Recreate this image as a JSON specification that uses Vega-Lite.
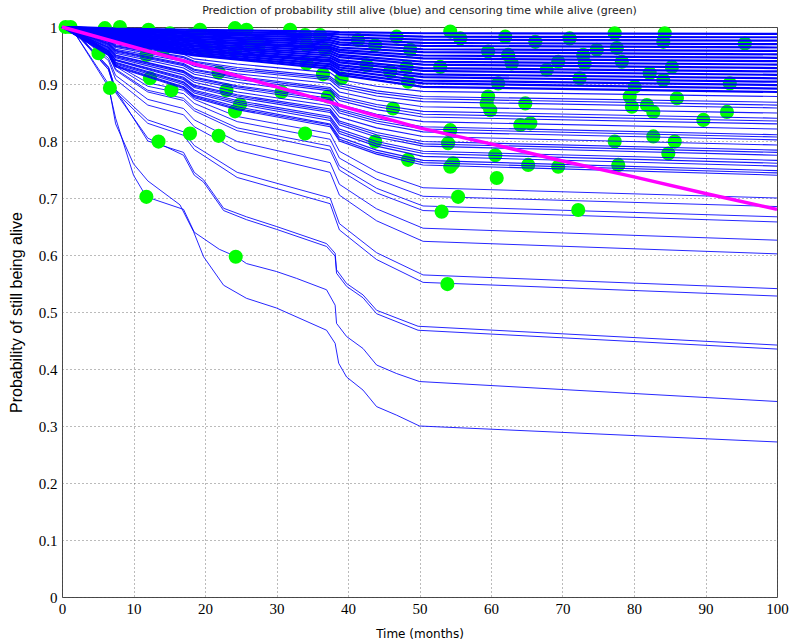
{
"$schema": "https://vega.github.io/schema/vega-lite/v6.json",
"width": 715, "height": 570,
"autosize": "none",
"padding": {"left": 62, "top": 27, "right": 14, "bottom": 47},
"title": {"text": "Prediction of probability still alive (blue) and censoring time while alive (green)", "font": "DejaVu Sans", "fontSize": 11, "fontWeight": "normal", "color": "#222", "offset": 4},
"config": {
 "view": {"stroke": "#444", "strokeWidth": 1},
 "axis": {"grid": true, "gridDash": [1, 3], "gridColor": "#555", "gridOpacity": 0.8, "domain": false, "ticks": false, "labelFont": "Liberation Sans Narrow", "labelFontSize": 15, "labelColor": "#000", "titleFontWeight": "normal", "titleColor": "#000"}
},
"datasets": {
"top": [
{"s":1,"t":0,"p":1},{"s":1,"t":2,"p":1.0},{"s":1,"t":7.5,"p":0.997},{"s":1,"t":18.5,"p":0.995},{"s":1,"t":37.5,"p":0.992},{"s":1,"t":38.8,"p":0.991},{"s":1,"t":50.5,"p":0.989},{"s":1,"t":100,"p":0.988},
{"s":2,"t":0,"p":1},{"s":2,"t":2,"p":0.999},{"s":2,"t":7.5,"p":0.996},{"s":2,"t":18.5,"p":0.992},{"s":2,"t":37.5,"p":0.988},{"s":2,"t":38.8,"p":0.987},{"s":2,"t":50.5,"p":0.983},{"s":2,"t":100,"p":0.982},
{"s":3,"t":0,"p":1},{"s":3,"t":2,"p":0.999},{"s":3,"t":7.5,"p":0.994},{"s":3,"t":18.5,"p":0.989},{"s":3,"t":37.5,"p":0.985},{"s":3,"t":38.8,"p":0.982},{"s":3,"t":50.5,"p":0.978},{"s":3,"t":100,"p":0.976},
{"s":4,"t":0,"p":1},{"s":4,"t":2,"p":0.999},{"s":4,"t":7.5,"p":0.993},{"s":4,"t":18.5,"p":0.987},{"s":4,"t":37.5,"p":0.981},{"s":4,"t":38.8,"p":0.978},{"s":4,"t":50.5,"p":0.972},{"s":4,"t":100,"p":0.970},
{"s":5,"t":0,"p":1},{"s":5,"t":2,"p":0.999},{"s":5,"t":7.5,"p":0.991},{"s":5,"t":18.5,"p":0.984},{"s":5,"t":37.5,"p":0.977},{"s":5,"t":38.8,"p":0.973},{"s":5,"t":50.5,"p":0.967},{"s":5,"t":100,"p":0.964},
{"s":6,"t":0,"p":1},{"s":6,"t":2,"p":0.999},{"s":6,"t":7.5,"p":0.990},{"s":6,"t":18.5,"p":0.982},{"s":6,"t":37.5,"p":0.973},{"s":6,"t":38.8,"p":0.969},{"s":6,"t":50.5,"p":0.961},{"s":6,"t":100,"p":0.958},
{"s":7,"t":0,"p":1},{"s":7,"t":2,"p":0.999},{"s":7,"t":7.5,"p":0.988},{"s":7,"t":18.5,"p":0.979},{"s":7,"t":37.5,"p":0.969},{"s":7,"t":38.8,"p":0.964},{"s":7,"t":50.5,"p":0.956},{"s":7,"t":100,"p":0.952},
{"s":8,"t":0,"p":1},{"s":8,"t":2,"p":0.998},{"s":8,"t":7.5,"p":0.987},{"s":8,"t":18.5,"p":0.976},{"s":8,"t":37.5,"p":0.965},{"s":8,"t":38.8,"p":0.960},{"s":8,"t":50.5,"p":0.950},{"s":8,"t":100,"p":0.946},
{"s":9,"t":0,"p":1},{"s":9,"t":2,"p":0.998},{"s":9,"t":7.5,"p":0.986},{"s":9,"t":18.5,"p":0.974},{"s":9,"t":37.5,"p":0.962},{"s":9,"t":38.8,"p":0.956},{"s":9,"t":50.5,"p":0.945},{"s":9,"t":100,"p":0.940},
{"s":10,"t":0,"p":1},{"s":10,"t":2,"p":0.998},{"s":10,"t":7.5,"p":0.984},{"s":10,"t":18.5,"p":0.971},{"s":10,"t":37.5,"p":0.958},{"s":10,"t":38.8,"p":0.951},{"s":10,"t":50.5,"p":0.939},{"s":10,"t":100,"p":0.934},
{"s":11,"t":0,"p":1},{"s":11,"t":2,"p":0.998},{"s":11,"t":7.5,"p":0.983},{"s":11,"t":18.5,"p":0.968},{"s":11,"t":37.5,"p":0.954},{"s":11,"t":38.8,"p":0.947},{"s":11,"t":50.5,"p":0.934},{"s":11,"t":100,"p":0.928},
{"s":12,"t":0,"p":1},{"s":12,"t":2,"p":0.998},{"s":12,"t":7.5,"p":0.981},{"s":12,"t":18.5,"p":0.966},{"s":12,"t":37.5,"p":0.950},{"s":12,"t":38.8,"p":0.942},{"s":12,"t":50.5,"p":0.928},{"s":12,"t":100,"p":0.922},
{"s":13,"t":0,"p":1},{"s":13,"t":2,"p":0.997},{"s":13,"t":7.5,"p":0.980},{"s":13,"t":18.5,"p":0.963},{"s":13,"t":37.5,"p":0.946},{"s":13,"t":38.8,"p":0.938},{"s":13,"t":50.5,"p":0.923},{"s":13,"t":100,"p":0.916},
{"s":14,"t":0,"p":1},{"s":14,"t":2,"p":0.997},{"s":14,"t":7.5,"p":0.978},{"s":14,"t":18.5,"p":0.960},{"s":14,"t":37.5,"p":0.942},{"s":14,"t":38.8,"p":0.933},{"s":14,"t":50.5,"p":0.917},{"s":14,"t":100,"p":0.910},
{"s":15,"t":0,"p":1},{"s":15,"t":2,"p":0.997},{"s":15,"t":7.5,"p":0.977},{"s":15,"t":18.5,"p":0.958},{"s":15,"t":37.5,"p":0.939},{"s":15,"t":38.8,"p":0.929},{"s":15,"t":50.5,"p":0.912},{"s":15,"t":100,"p":0.904},
{"s":16,"t":0,"p":1},{"s":16,"t":2,"p":0.997},{"s":16,"t":7.5,"p":0.976},{"s":16,"t":18.5,"p":0.955},{"s":16,"t":37.5,"p":0.935},{"s":16,"t":38.8,"p":0.925},{"s":16,"t":50.5,"p":0.906},{"s":16,"t":100,"p":0.898},
{"s":17,"t":0,"p":1},{"s":17,"t":2,"p":0.997},{"s":17,"t":7.5,"p":0.974},{"s":17,"t":18.5,"p":0.952},{"s":17,"t":37.5,"p":0.931},{"s":17,"t":38.8,"p":0.920},{"s":17,"t":50.5,"p":0.901},{"s":17,"t":100,"p":0.892},
{"s":18,"t":0,"p":1},{"s":18,"t":2,"p":0.997},{"s":18,"t":7.5,"p":0.973},{"s":18,"t":18.5,"p":0.950},{"s":18,"t":37.5,"p":0.927},{"s":18,"t":38.8,"p":0.916},{"s":18,"t":50.5,"p":0.895},{"s":18,"t":100,"p":0.886}
],
"mid": [
{"s":1,"t":0,"p":1},{"s":1,"t":6.5,"p":0.978},{"s":1,"t":7.5,"p":0.969},{"s":1,"t":17,"p":0.952},{"s":1,"t":18.5,"p":0.944},{"s":1,"t":24.5,"p":0.935},{"s":1,"t":37.5,"p":0.920},{"s":1,"t":38.8,"p":0.908},{"s":1,"t":44,"p":0.896},{"s":1,"t":50.5,"p":0.887},{"s":1,"t":100,"p":0.878},
{"s":2,"t":0,"p":1},{"s":2,"t":6.5,"p":0.976},{"s":2,"t":7.5,"p":0.967},{"s":2,"t":17,"p":0.948},{"s":2,"t":18.5,"p":0.940},{"s":2,"t":24.5,"p":0.929},{"s":2,"t":37.5,"p":0.913},{"s":2,"t":38.8,"p":0.901},{"s":2,"t":44,"p":0.888},{"s":2,"t":50.5,"p":0.878},{"s":2,"t":100,"p":0.868},
{"s":18,"t":0,"p":1},{"s":18,"t":6.5,"p":0.975},{"s":18,"t":7.5,"p":0.966},{"s":18,"t":17,"p":0.946},{"s":18,"t":18.5,"p":0.938},{"s":18,"t":24.5,"p":0.926},{"s":18,"t":37.5,"p":0.910},{"s":18,"t":38.8,"p":0.897},{"s":18,"t":44,"p":0.884},{"s":18,"t":50.5,"p":0.874},{"s":18,"t":100,"p":0.863},
{"s":3,"t":0,"p":1},{"s":3,"t":6.5,"p":0.974},{"s":3,"t":7.5,"p":0.964},{"s":3,"t":17,"p":0.943},{"s":3,"t":18.5,"p":0.935},{"s":3,"t":24.5,"p":0.923},{"s":3,"t":37.5,"p":0.907},{"s":3,"t":38.8,"p":0.893},{"s":3,"t":44,"p":0.879},{"s":3,"t":50.5,"p":0.869},{"s":3,"t":100,"p":0.858},
{"s":4,"t":0,"p":1},{"s":4,"t":6.5,"p":0.973},{"s":4,"t":7.5,"p":0.961},{"s":4,"t":17,"p":0.940},{"s":4,"t":18.5,"p":0.931},{"s":4,"t":24.5,"p":0.918},{"s":4,"t":37.5,"p":0.901},{"s":4,"t":38.8,"p":0.886},{"s":4,"t":44,"p":0.872},{"s":4,"t":50.5,"p":0.860},{"s":4,"t":100,"p":0.849},
{"s":5,"t":0,"p":1},{"s":5,"t":6.5,"p":0.971},{"s":5,"t":7.5,"p":0.959},{"s":5,"t":17,"p":0.936},{"s":5,"t":18.5,"p":0.926},{"s":5,"t":24.5,"p":0.913},{"s":5,"t":37.5,"p":0.894},{"s":5,"t":38.8,"p":0.879},{"s":5,"t":44,"p":0.864},{"s":5,"t":50.5,"p":0.852},{"s":5,"t":100,"p":0.840},
{"s":19,"t":0,"p":1},{"s":19,"t":6.5,"p":0.970},{"s":19,"t":7.5,"p":0.958},{"s":19,"t":17,"p":0.934},{"s":19,"t":18.5,"p":0.924},{"s":19,"t":24.5,"p":0.911},{"s":19,"t":37.5,"p":0.891},{"s":19,"t":38.8,"p":0.875},{"s":19,"t":44,"p":0.860},{"s":19,"t":50.5,"p":0.847},{"s":19,"t":100,"p":0.835},
{"s":6,"t":0,"p":1},{"s":6,"t":6.5,"p":0.969},{"s":6,"t":7.5,"p":0.956},{"s":6,"t":17,"p":0.932},{"s":6,"t":18.5,"p":0.921},{"s":6,"t":24.5,"p":0.908},{"s":6,"t":37.5,"p":0.888},{"s":6,"t":38.8,"p":0.871},{"s":6,"t":44,"p":0.855},{"s":6,"t":50.5,"p":0.842},{"s":6,"t":100,"p":0.830},
{"s":7,"t":0,"p":1},{"s":7,"t":6.5,"p":0.967},{"s":7,"t":7.5,"p":0.954},{"s":7,"t":17,"p":0.928},{"s":7,"t":18.5,"p":0.917},{"s":7,"t":24.5,"p":0.903},{"s":7,"t":37.5,"p":0.881},{"s":7,"t":38.8,"p":0.864},{"s":7,"t":44,"p":0.847},{"s":7,"t":50.5,"p":0.834},{"s":7,"t":100,"p":0.821},
{"s":8,"t":0,"p":1},{"s":8,"t":6.5,"p":0.965},{"s":8,"t":7.5,"p":0.951},{"s":8,"t":17,"p":0.923},{"s":8,"t":18.5,"p":0.912},{"s":8,"t":24.5,"p":0.897},{"s":8,"t":37.5,"p":0.875},{"s":8,"t":38.8,"p":0.856},{"s":8,"t":44,"p":0.839},{"s":8,"t":50.5,"p":0.825},{"s":8,"t":100,"p":0.811},
{"s":20,"t":0,"p":1},{"s":20,"t":6.5,"p":0.964},{"s":20,"t":7.5,"p":0.950},{"s":20,"t":17,"p":0.922},{"s":20,"t":18.5,"p":0.910},{"s":20,"t":24.5,"p":0.895},{"s":20,"t":37.5,"p":0.872},{"s":20,"t":38.8,"p":0.853},{"s":20,"t":44,"p":0.835},{"s":20,"t":50.5,"p":0.821},{"s":20,"t":100,"p":0.807},
{"s":9,"t":0,"p":1},{"s":9,"t":6.5,"p":0.963},{"s":9,"t":7.5,"p":0.948},{"s":9,"t":17,"p":0.920},{"s":9,"t":18.5,"p":0.907},{"s":9,"t":24.5,"p":0.892},{"s":9,"t":37.5,"p":0.868},{"s":9,"t":38.8,"p":0.849},{"s":9,"t":44,"p":0.831},{"s":9,"t":50.5,"p":0.816},{"s":9,"t":100,"p":0.802},
{"s":10,"t":0,"p":1},{"s":10,"t":6.5,"p":0.961},{"s":10,"t":7.5,"p":0.946},{"s":10,"t":17,"p":0.916},{"s":10,"t":18.5,"p":0.903},{"s":10,"t":24.5,"p":0.886},{"s":10,"t":37.5,"p":0.862},{"s":10,"t":38.8,"p":0.842},{"s":10,"t":44,"p":0.823},{"s":10,"t":50.5,"p":0.808},{"s":10,"t":100,"p":0.793},
{"s":11,"t":0,"p":1},{"s":11,"t":6.5,"p":0.959},{"s":11,"t":7.5,"p":0.943},{"s":11,"t":17,"p":0.912},{"s":11,"t":18.5,"p":0.898},{"s":11,"t":24.5,"p":0.881},{"s":11,"t":37.5,"p":0.856},{"s":11,"t":38.8,"p":0.835},{"s":11,"t":44,"p":0.815},{"s":11,"t":50.5,"p":0.799},{"s":11,"t":100,"p":0.784},
{"s":21,"t":0,"p":1},{"s":21,"t":6.5,"p":0.958},{"s":21,"t":7.5,"p":0.942},{"s":21,"t":17,"p":0.910},{"s":21,"t":18.5,"p":0.896},{"s":21,"t":24.5,"p":0.879},{"s":21,"t":37.5,"p":0.853},{"s":21,"t":38.8,"p":0.832},{"s":21,"t":44,"p":0.811},{"s":21,"t":50.5,"p":0.795},{"s":21,"t":100,"p":0.780},
{"s":12,"t":0,"p":1},{"s":12,"t":6.5,"p":0.958},{"s":12,"t":7.5,"p":0.941},{"s":12,"t":17,"p":0.908},{"s":12,"t":18.5,"p":0.894},{"s":12,"t":24.5,"p":0.876},{"s":12,"t":37.5,"p":0.850},{"s":12,"t":38.8,"p":0.828},{"s":12,"t":44,"p":0.807},{"s":12,"t":50.5,"p":0.791},{"s":12,"t":100,"p":0.775},
{"s":13,"t":0,"p":1},{"s":13,"t":6.5,"p":0.956},{"s":13,"t":7.5,"p":0.938},{"s":13,"t":17,"p":0.904},{"s":13,"t":18.5,"p":0.889},{"s":13,"t":24.5,"p":0.871},{"s":13,"t":37.5,"p":0.843},{"s":13,"t":38.8,"p":0.821},{"s":13,"t":44,"p":0.799},{"s":13,"t":50.5,"p":0.782},{"s":13,"t":100,"p":0.766},
{"s":22,"t":0,"p":1},{"s":22,"t":6.5,"p":0.955},{"s":22,"t":7.5,"p":0.937},{"s":22,"t":17,"p":0.902},{"s":22,"t":18.5,"p":0.887},{"s":22,"t":24.5,"p":0.868},{"s":22,"t":37.5,"p":0.840},{"s":22,"t":38.8,"p":0.817},{"s":22,"t":44,"p":0.795},{"s":22,"t":50.5,"p":0.778},{"s":22,"t":100,"p":0.761},
{"s":14,"t":0,"p":1},{"s":14,"t":6.5,"p":0.954},{"s":14,"t":7.5,"p":0.935},{"s":14,"t":17,"p":0.899},{"s":14,"t":18.5,"p":0.884},{"s":14,"t":24.5,"p":0.865},{"s":14,"t":37.5,"p":0.836},{"s":14,"t":38.8,"p":0.813},{"s":14,"t":44,"p":0.791},{"s":14,"t":50.5,"p":0.773},{"s":14,"t":100,"p":0.756},
{"s":15,"t":0,"p":1},{"s":15,"t":6.5,"p":0.952},{"s":15,"t":7.5,"p":0.933},{"s":15,"t":17,"p":0.895},{"s":15,"t":18.5,"p":0.880},{"s":15,"t":24.5,"p":0.860},{"s":15,"t":37.5,"p":0.830},{"s":15,"t":38.8,"p":0.807},{"s":15,"t":44,"p":0.784},{"s":15,"t":50.5,"p":0.766},{"s":15,"t":100,"p":0.748},
{"s":16,"t":0,"p":1},{"s":16,"t":6.5,"p":0.951},{"s":16,"t":7.5,"p":0.931},{"s":16,"t":17,"p":0.894},{"s":16,"t":18.5,"p":0.878},{"s":16,"t":24.5,"p":0.857},{"s":16,"t":37.5,"p":0.828},{"s":16,"t":38.8,"p":0.803},{"s":16,"t":44,"p":0.780},{"s":16,"t":50.5,"p":0.762},{"s":16,"t":100,"p":0.744},
{"s":17,"t":0,"p":1},{"s":17,"t":6.5,"p":0.950},{"s":17,"t":7.5,"p":0.930},{"s":17,"t":17,"p":0.892},{"s":17,"t":18.5,"p":0.876},{"s":17,"t":24.5,"p":0.855},{"s":17,"t":37.5,"p":0.825},{"s":17,"t":38.8,"p":0.800},{"s":17,"t":44,"p":0.777},{"s":17,"t":50.5,"p":0.758},{"s":17,"t":100,"p":0.740}
],
"low": [
{"s":1,"t":0,"p":1},{"s":1,"t":2,"p":0.993},{"s":1,"t":6.5,"p":0.958},{"s":1,"t":7.5,"p":0.934},{"s":1,"t":12,"p":0.902},{"s":1,"t":17,"p":0.889},{"s":1,"t":18.5,"p":0.873},{"s":1,"t":24.5,"p":0.843},{"s":1,"t":37.5,"p":0.813},{"s":1,"t":38.8,"p":0.782},{"s":1,"t":44,"p":0.746},{"s":1,"t":50.5,"p":0.718},{"s":1,"t":100,"p":0.700},
{"s":2,"t":0,"p":1},{"s":2,"t":2,"p":0.992},{"s":2,"t":6.5,"p":0.956},{"s":2,"t":7.5,"p":0.931},{"s":2,"t":12,"p":0.896},{"s":2,"t":17,"p":0.883},{"s":2,"t":18.5,"p":0.866},{"s":2,"t":24.5,"p":0.834},{"s":2,"t":37.5,"p":0.803},{"s":2,"t":38.8,"p":0.770},{"s":2,"t":44,"p":0.733},{"s":2,"t":50.5,"p":0.703},{"s":2,"t":100,"p":0.685},
{"s":3,"t":0,"p":1},{"s":3,"t":2,"p":0.992},{"s":3,"t":6.5,"p":0.953},{"s":3,"t":7.5,"p":0.926},{"s":3,"t":12,"p":0.889},{"s":3,"t":17,"p":0.875},{"s":3,"t":18.5,"p":0.857},{"s":3,"t":24.5,"p":0.823},{"s":3,"t":37.5,"p":0.791},{"s":3,"t":38.8,"p":0.756},{"s":3,"t":44,"p":0.717},{"s":3,"t":50.5,"p":0.686},{"s":3,"t":100,"p":0.667},
{"s":4,"t":0,"p":1},{"s":4,"t":2,"p":0.992},{"s":4,"t":6.5,"p":0.951},{"s":4,"t":7.5,"p":0.924},{"s":4,"t":12,"p":0.886},{"s":4,"t":17,"p":0.871},{"s":4,"t":18.5,"p":0.853},{"s":4,"t":24.5,"p":0.818},{"s":4,"t":37.5,"p":0.784},{"s":4,"t":38.8,"p":0.749},{"s":4,"t":44,"p":0.709},{"s":4,"t":50.5,"p":0.678},{"s":4,"t":100,"p":0.658},
{"s":5,"t":0,"p":1},{"s":5,"t":2,"p":0.991},{"s":5,"t":6.5,"p":0.945},{"s":5,"t":7.5,"p":0.915},{"s":5,"t":12,"p":0.873},{"s":5,"t":17,"p":0.857},{"s":5,"t":18.5,"p":0.837},{"s":5,"t":24.5,"p":0.799},{"s":5,"t":37.5,"p":0.762},{"s":5,"t":38.8,"p":0.724},{"s":5,"t":44,"p":0.681},{"s":5,"t":50.5,"p":0.647},{"s":5,"t":100,"p":0.626},
{"s":6,"t":0,"p":1},{"s":6,"t":2,"p":0.990},{"s":6,"t":6.5,"p":0.941},{"s":6,"t":7.5,"p":0.908},{"s":6,"t":12,"p":0.863},{"s":6,"t":17,"p":0.846},{"s":6,"t":18.5,"p":0.825},{"s":6,"t":24.5,"p":0.784},{"s":6,"t":37.5,"p":0.745},{"s":6,"t":38.8,"p":0.705},{"s":6,"t":44,"p":0.660},{"s":6,"t":50.5,"p":0.624},{"s":6,"t":100,"p":0.602},
{"s":7,"t":0,"p":1},{"s":7,"t":2,"p":0.988},{"s":7,"t":6.5,"p":0.929},{"s":7,"t":7.5,"p":0.890},{"s":7,"t":12,"p":0.837},{"s":7,"t":17,"p":0.816},{"s":7,"t":18.5,"p":0.792},{"s":7,"t":24.5,"p":0.745},{"s":7,"t":37.5,"p":0.700},{"s":7,"t":38.8,"p":0.655},{"s":7,"t":44,"p":0.604},{"s":7,"t":50.5,"p":0.565},{"s":7,"t":100,"p":0.541},
{"s":8,"t":0,"p":1},{"s":8,"t":2,"p":0.987},{"s":8,"t":6.5,"p":0.926},{"s":8,"t":7.5,"p":0.886},{"s":8,"t":12,"p":0.831},{"s":8,"t":17,"p":0.810},{"s":8,"t":18.5,"p":0.785},{"s":8,"t":24.5,"p":0.736},{"s":8,"t":37.5,"p":0.690},{"s":8,"t":38.8,"p":0.644},{"s":8,"t":44,"p":0.592},{"s":8,"t":50.5,"p":0.552},{"s":8,"t":100,"p":0.528},
{"s":9,"t":0,"p":1},{"s":9,"t":2,"p":0.99},{"s":9,"t":6.5,"p":0.93},{"s":9,"t":7.5,"p":0.89},{"s":9,"t":12,"p":0.80},{"s":9,"t":17,"p":0.78},{"s":9,"t":18.5,"p":0.745},{"s":9,"t":19.8,"p":0.732},{"s":9,"t":22.6,"p":0.682},{"s":9,"t":25.8,"p":0.667},{"s":9,"t":30,"p":0.65},{"s":9,"t":37,"p":0.62},{"s":9,"t":38.2,"p":0.603},{"s":9,"t":38.4,"p":0.574},{"s":9,"t":39.8,"p":0.55},{"s":9,"t":42.1,"p":0.53},{"s":9,"t":44,"p":0.503},{"s":9,"t":49.8,"p":0.475},{"s":9,"t":100,"p":0.442},
{"s":10,"t":0,"p":1},{"s":10,"t":2,"p":0.99},{"s":10,"t":6.5,"p":0.925},{"s":10,"t":7.5,"p":0.885},{"s":10,"t":12,"p":0.805},{"s":10,"t":17,"p":0.775},{"s":10,"t":18.5,"p":0.74},{"s":10,"t":19.8,"p":0.728},{"s":10,"t":22.6,"p":0.678},{"s":10,"t":25.8,"p":0.662},{"s":10,"t":30,"p":0.645},{"s":10,"t":37,"p":0.615},{"s":10,"t":38.2,"p":0.598},{"s":10,"t":38.4,"p":0.568},{"s":10,"t":39.8,"p":0.545},{"s":10,"t":42.1,"p":0.525},{"s":10,"t":44,"p":0.497},{"s":10,"t":49.8,"p":0.468},{"s":10,"t":100,"p":0.435},
{"s":11,"t":0,"p":1},{"s":11,"t":2,"p":0.985},{"s":11,"t":6.5,"p":0.895},{"s":11,"t":7.5,"p":0.84},{"s":11,"t":10,"p":0.74},{"s":11,"t":11.8,"p":0.702},{"s":11,"t":17,"p":0.68},{"s":11,"t":18.5,"p":0.64},{"s":11,"t":22,"p":0.61},{"s":11,"t":24.4,"p":0.597},{"s":11,"t":25.8,"p":0.585},{"s":11,"t":30,"p":0.571},{"s":11,"t":32.8,"p":0.559},{"s":11,"t":37,"p":0.539},{"s":11,"t":38.2,"p":0.512},{"s":11,"t":38.4,"p":0.48},{"s":11,"t":39.8,"p":0.457},{"s":11,"t":42.1,"p":0.436},{"s":11,"t":44,"p":0.407},{"s":11,"t":46.8,"p":0.392},{"s":11,"t":50,"p":0.378},{"s":11,"t":100,"p":0.343},
{"s":12,"t":0,"p":1},{"s":12,"t":2,"p":0.985},{"s":12,"t":6.5,"p":0.90},{"s":12,"t":7.5,"p":0.83},{"s":12,"t":10,"p":0.76},{"s":12,"t":12,"p":0.73},{"s":12,"t":16.5,"p":0.688},{"s":12,"t":18.4,"p":0.641},{"s":12,"t":19.8,"p":0.597},{"s":12,"t":22.6,"p":0.547},{"s":12,"t":25.8,"p":0.524},{"s":12,"t":30,"p":0.507},{"s":12,"t":37,"p":0.468},{"s":12,"t":38.2,"p":0.445},{"s":12,"t":38.7,"p":0.41},{"s":12,"t":39.8,"p":0.386},{"s":12,"t":42.1,"p":0.363},{"s":12,"t":44,"p":0.334},{"s":12,"t":46.8,"p":0.319},{"s":12,"t":50,"p":0.30},{"s":12,"t":100,"p":0.272}
],
"mean": [
{"t":0,"p":1},{"t":10,"p":0.965},{"t":20,"p":0.93},{"t":30,"p":0.895},{"t":38,"p":0.866},{"t":40,"p":0.858},{"t":50,"p":0.823},{"t":60,"p":0.795},{"t":70,"p":0.765},{"t":80,"p":0.737},{"t":90,"p":0.708},{"t":100,"p":0.68}
],
"dots": [
{"t":0.5,"p":1.0},{"t":1.2,"p":1.0},{"t":5.1,"p":0.954},{"t":5.5,"p":0.989},{"t":6.0,"p":0.998},{"t":6.7,"p":0.893},{"t":8.1,"p":1.0},{"t":11.8,"p":0.967},{"t":11.8,"p":0.951},{"t":12.1,"p":0.995},{"t":12.3,"p":0.910},{"t":11.8,"p":0.702},{"t":13.5,"p":0.799},{"t":14.2,"p":0.960},{"t":15.1,"p":0.989},{"t":15.3,"p":0.889},{"t":17.9,"p":0.813},{"t":18.1,"p":0.986},{"t":19.3,"p":0.995},{"t":20.2,"p":0.962},{"t":21.9,"p":0.920},{"t":21.9,"p":0.809},{"t":23.0,"p":0.889},{"t":24.2,"p":0.957},{"t":24.2,"p":0.998},{"t":24.2,"p":0.852},{"t":24.9,"p":0.864},{"t":24.3,"p":0.597},{"t":25.8,"p":0.995},{"t":27.5,"p":0.968},{"t":26.5,"p":0.970},{"t":30.7,"p":0.886},{"t":31.9,"p":0.995},{"t":34.0,"p":0.986},{"t":36.1,"p":0.986},{"t":34.2,"p":0.968},{"t":36.8,"p":0.960},{"t":34.2,"p":0.936},{"t":36.5,"p":0.917},{"t":37.2,"p":0.878},{"t":39.1,"p":0.910},{"t":34.0,"p":0.813},{"t":41.4,"p":0.977},{"t":43.8,"p":0.968},{"t":42.6,"p":0.933},{"t":43.8,"p":0.799},{"t":46.8,"p":0.983},{"t":48.7,"p":0.960},{"t":45.9,"p":0.922},{"t":48.2,"p":0.930},{"t":48.4,"p":0.904},{"t":46.3,"p":0.857},{"t":48.4,"p":0.767},{"t":54.3,"p":0.992},{"t":55.7,"p":0.980},{"t":52.9,"p":0.930},{"t":54.3,"p":0.819},{"t":54.0,"p":0.796},{"t":54.7,"p":0.761},{"t":54.3,"p":0.755},{"t":55.4,"p":0.702},{"t":53.1,"p":0.676},{"t":53.9,"p":0.549},{"t":59.6,"p":0.957},{"t":62.0,"p":0.983},{"t":62.4,"p":0.951},{"t":62.9,"p":0.936},{"t":61.0,"p":0.901},{"t":59.6,"p":0.878},{"t":59.4,"p":0.866},{"t":59.9,"p":0.854},{"t":60.6,"p":0.775},{"t":60.8,"p":0.735},{"t":64.8,"p":0.866},{"t":64.1,"p":0.828},{"t":65.5,"p":0.831},{"t":65.2,"p":0.758},{"t":66.2,"p":0.974},{"t":67.8,"p":0.925},{"t":69.4,"p":0.939},{"t":69.4,"p":0.755},{"t":71.0,"p":0.980},{"t":72.2,"p":0.679},{"t":72.9,"p":0.951},{"t":73.1,"p":0.936},{"t":72.4,"p":0.910},{"t":74.8,"p":0.960},{"t":77.3,"p":0.989},{"t":77.6,"p":0.963},{"t":78.3,"p":0.939},{"t":79.4,"p":0.878},{"t":79.7,"p":0.860},{"t":80.1,"p":0.895},{"t":82.2,"p":0.919},{"t":81.8,"p":0.863},{"t":82.7,"p":0.851},{"t":77.3,"p":0.799},{"t":77.8,"p":0.758},{"t":82.7,"p":0.808},{"t":84.3,"p":0.989},{"t":84.1,"p":0.974},{"t":85.3,"p":0.930},{"t":84.1,"p":0.907},{"t":86.0,"p":0.875},{"t":85.7,"p":0.799},{"t":84.8,"p":0.778},{"t":89.7,"p":0.837},{"t":93.0,"p":0.851},{"t":93.4,"p":0.901},{"t":95.5,"p":0.971}
]
},
"encoding": {
 "x": {"field": "t", "type": "quantitative", "scale": {"domain": [0, 100], "nice": false},
  "axis": {"values": [0,10,20,30,40,50,60,70,80,90,100], "labelPadding": 4, "title": "Time (months)", "titleFont": "DejaVu Sans", "titleFontSize": 12, "titlePadding": 12, "labelFlush": false}},
 "y": {"field": "p", "type": "quantitative", "scale": {"domain": [0, 1], "nice": false},
  "axis": {"values": [0,0.1,0.2,0.3,0.4,0.5,0.6,0.7,0.8,0.9,1], "labelExpr": "datum.value == 0 ? '0' : datum.value == 1 ? '1' : format(datum.value, '.1f')", "labelPadding": 5, "title": "Probability of still being alive", "titleFont": "Liberation Sans", "titleFontSize": 16, "titlePadding": 14, "labelFlush": false}}
},
"layer": [
 {"data": {"name": "low"}, "mark": {"type": "line", "color": "#0000ff", "strokeWidth": 1, "opacity": 0.85}, "encoding": {"detail": {"field": "s", "type": "nominal"}}},
 {"data": {"name": "dots"}, "mark": {"type": "circle", "color": "#00ff00", "size": 200, "opacity": 1}},
 {"data": {"name": "top"}, "mark": {"type": "line", "color": "#0000ff", "strokeWidth": 2.2}, "encoding": {"detail": {"field": "s", "type": "nominal"}}},
 {"data": {"name": "mid"}, "mark": {"type": "line", "color": "#0000ff", "strokeWidth": 1.1, "opacity": 0.9}, "encoding": {"detail": {"field": "s", "type": "nominal"}}},
 {"data": {"name": "mean"}, "mark": {"type": "line", "color": "#ff00ff", "strokeWidth": 3.5}, "encoding": {}}
]
}
